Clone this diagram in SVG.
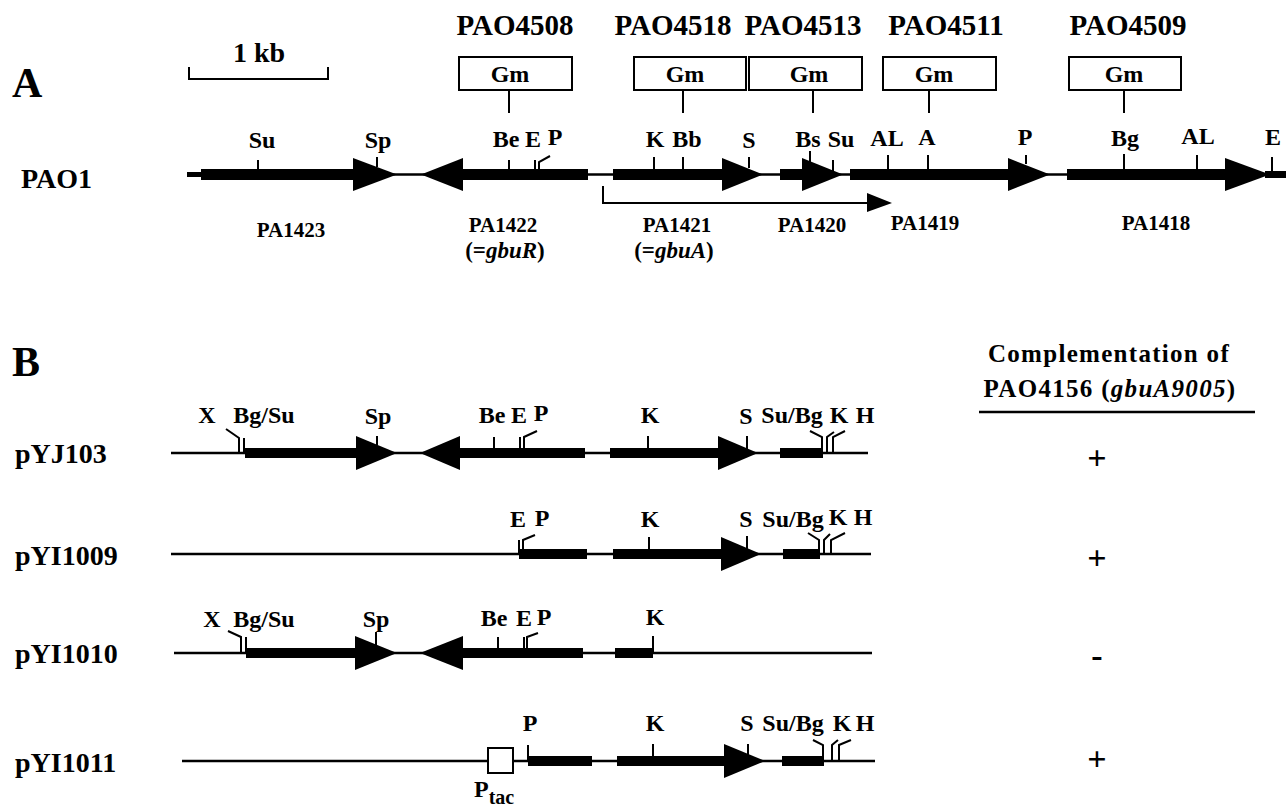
<svg xmlns="http://www.w3.org/2000/svg" width="1286" height="807" viewBox="0 0 1286 807">
<style>
.t{font-family:"Liberation Serif","Times New Roman",serif;font-weight:bold;fill:#000}
.big{font-size:42px}
.name{font-size:28px}
.strain{font-size:29px;text-anchor:middle}
.site{font-size:24px;text-anchor:middle}
.gene{font-size:21px;text-anchor:middle}
.paren{font-size:23px;text-anchor:middle}
.gm{font-size:24px;text-anchor:middle}
.hdr{font-size:25px;text-anchor:middle;letter-spacing:1.3px}
.pm{font-size:34px;text-anchor:middle}
.ln{stroke:#000;fill:none;stroke-width:2}
.dna{stroke:#000;fill:none;stroke-width:2.5}
.box{stroke:#000;fill:#fff;stroke-width:2}
.bar{fill:#000}
</style>
<rect width="1286" height="807" fill="#fff"/>

<g id="panelA-labels">
<text class="t big" x="12" y="97">A</text>
<text class="t name" x="21" y="188">PAO1</text>
<text class="t" x="259" y="62" font-size="28" text-anchor="middle">1 kb</text>
<polyline class="ln" points="189,67 189,79 328,79 328,67"/>
</g>

<g id="insertions">
<g id="PAO4508"><text class="t strain" x="515" y="35">PAO4508</text><rect class="box" x="459" y="57" width="113" height="33"/><text class="t gm" x="510" y="82">Gm</text><line class="ln" x1="509" y1="90" x2="509" y2="113"/></g>
<g id="PAO4518"><text class="t strain" x="673" y="35">PAO4518</text><rect class="box" x="634" y="57" width="112" height="33"/><text class="t gm" x="685" y="82">Gm</text><line class="ln" x1="683" y1="90" x2="683" y2="113"/></g>
<g id="PAO4513"><text class="t strain" x="803" y="35">PAO4513</text><rect class="box" x="749" y="57" width="113" height="33"/><text class="t gm" x="809" y="82">Gm</text><line class="ln" x1="813" y1="90" x2="813" y2="113"/></g>
<g id="PAO4511"><text class="t strain" x="946" y="35">PAO4511</text><rect class="box" x="883" y="57" width="113" height="33"/><text class="t gm" x="934" y="82">Gm</text><line class="ln" x1="929" y1="90" x2="929" y2="113"/></g>
<g id="PAO4509"><text class="t strain" x="1128" y="35">PAO4509</text><rect class="box" x="1069" y="57" width="112" height="33"/><text class="t gm" x="1124" y="82">Gm</text><line class="ln" x1="1124" y1="90" x2="1124" y2="113"/></g>
</g>

<g id="PAO1-map">
<line class="dna" x1="187" y1="174.5" x2="1286" y2="174.5"/>
<rect class="bar" x="187" y="172" width="14" height="5"/>
<rect class="bar" x="201" y="169" width="153" height="11"/>
<polygon class="bar" points="353,158 397,174.5 353,191"/>
<polygon class="bar" points="421,174.5 463,158 463,191"/>
<rect class="bar" x="462" y="169" width="126" height="11"/>
<rect class="bar" x="613" y="169" width="110" height="11"/>
<polygon class="bar" points="722,158 763,174.5 722,191"/>
<rect class="bar" x="780" y="169" width="23" height="11"/>
<polygon class="bar" points="802,158 843,174.5 802,191"/>
<rect class="bar" x="850" y="169" width="159" height="11"/>
<polygon class="bar" points="1008,158 1050,174.5 1008,191"/>
<rect class="bar" x="1067" y="169" width="159" height="11"/>
<polygon class="bar" points="1225,158 1270,174.5 1225,191"/>
<rect class="bar" x="1265" y="171" width="21" height="7"/>
<g id="A-ticks">
<line class="ln" x1="258" y1="160" x2="258" y2="174"/>
<line class="ln" x1="377" y1="157" x2="377" y2="167"/>
<line class="ln" x1="509" y1="160" x2="509" y2="174"/>
<line class="ln" x1="535" y1="160" x2="535" y2="174"/>
<polyline class="ln" points="539,174 539,162 550,156"/>
<line class="ln" x1="654" y1="157" x2="654" y2="174"/>
<line class="ln" x1="683" y1="157" x2="683" y2="174"/>
<line class="ln" x1="749" y1="157" x2="749" y2="168"/>
<line class="ln" x1="810" y1="151" x2="810" y2="163"/>
<line class="ln" x1="833" y1="160" x2="833" y2="172"/>
<line class="ln" x1="888" y1="155" x2="888" y2="174"/>
<line class="ln" x1="928" y1="155" x2="928" y2="174"/>
<line class="ln" x1="1026" y1="155" x2="1026" y2="164"/>
<line class="ln" x1="1124" y1="154" x2="1124" y2="174"/>
<line class="ln" x1="1197" y1="155" x2="1197" y2="174"/>
<line class="ln" x1="1272" y1="157" x2="1272" y2="174"/>
</g>
<g id="A-sites">
<text class="t site" x="262" y="148">Su</text>
<text class="t site" x="378" y="148">Sp</text>
<text class="t site" x="506" y="147">Be</text>
<text class="t site" x="533" y="147">E</text>
<text class="t site" x="555" y="145">P</text>
<text class="t site" x="655" y="147">K</text>
<text class="t site" x="687" y="147">Bb</text>
<text class="t site" x="749" y="148">S</text>
<text class="t site" x="808" y="147">Bs</text>
<text class="t site" x="841" y="147">Su</text>
<text class="t site" x="887" y="146">AL</text>
<text class="t site" x="927" y="145">A</text>
<text class="t site" x="1025" y="145">P</text>
<text class="t site" x="1125" y="146">Bg</text>
<text class="t site" x="1198" y="144">AL</text>
<text class="t site" x="1273" y="145">E</text>
</g>
<g id="A-genes">
<text class="t gene" x="291" y="237">PA1423</text>
<text class="t gene" x="503" y="232">PA1422</text>
<text class="t paren" x="505" y="258">(=<tspan font-style="italic">gbuR</tspan>)</text>
<text class="t gene" x="677" y="232">PA1421</text>
<text class="t paren" x="674" y="258">(=<tspan font-style="italic">gbuA</tspan>)</text>
<text class="t gene" x="812" y="232">PA1420</text>
<text class="t gene" x="925" y="230">PA1419</text>
<text class="t gene" x="1156" y="230">PA1418</text>
</g>
</g>

<g id="connectors">
<polyline class="ln" points="603,186 603,203 870,203"/>
<polygon class="bar" points="867,193 892,203 867,212"/>
</g>

<g id="panelB-labels">
<text class="t big" x="12" y="376">B</text>
<text class="t hdr" x="1109" y="362">Complementation of</text>
<text class="t hdr" x="1110" y="397">PAO4156 (<tspan font-style="italic">gbuA9005</tspan>)</text>
<line x1="979" y1="412" x2="1255" y2="412" stroke="#000" stroke-width="2.5"/>
</g>

<g id="pYJ103">
<text class="t name" x="15" y="463">pYJ103</text>
<line class="dna" x1="171" y1="453" x2="868" y2="453"/>
<rect class="bar" x="245" y="448" width="112" height="10"/>
<polygon class="bar" points="356,436 397,453 356,470"/>
<polygon class="bar" points="420,453 460,436 460,470"/>
<rect class="bar" x="459" y="448" width="126" height="10"/>
<rect class="bar" x="610" y="448" width="109" height="10"/>
<polygon class="bar" points="718,436 758,453 718,470"/>
<rect class="bar" x="780" y="448" width="43" height="10"/>
<polyline class="ln" points="226,429 239,438 239,453"/>
<line class="ln" x1="244" y1="438" x2="244" y2="453"/>
<line class="ln" x1="377" y1="436" x2="377" y2="445"/>
<line class="ln" x1="494" y1="437" x2="494" y2="453"/>
<line class="ln" x1="520" y1="437" x2="520" y2="453"/>
<polyline class="ln" points="524,453 524,437 537,431"/>
<line class="ln" x1="648" y1="436" x2="648" y2="453"/>
<line class="ln" x1="747" y1="436" x2="747" y2="449"/>
<polyline class="ln" points="810,431 822,437 822,453"/>
<polyline class="ln" points="827,453 827,437 834,432"/>
<polyline class="ln" points="833,453 833,437 845,431"/>
<text class="t site" x="207" y="423">X</text>
<text class="t site" x="264" y="423">Bg/Su</text>
<text class="t site" x="378" y="424">Sp</text>
<text class="t site" x="492" y="423">Be</text>
<text class="t site" x="519" y="423">E</text>
<text class="t site" x="541" y="421">P</text>
<text class="t site" x="650" y="423">K</text>
<text class="t site" x="746" y="424">S</text>
<text class="t site" x="792" y="423">Su/Bg</text>
<text class="t site" x="839" y="423">K</text>
<text class="t site" x="865" y="423">H</text>
<text class="t pm" x="1097" y="469">+</text>
</g>

<g id="pYI1009">
<text class="t name" x="15" y="565">pYI1009</text>
<line class="dna" x1="171" y1="554" x2="871" y2="554"/>
<rect class="bar" x="519" y="549" width="68" height="10"/>
<rect class="bar" x="613" y="549" width="109" height="10"/>
<polygon class="bar" points="721,537 761,554 721,571"/>
<rect class="bar" x="783" y="549" width="37" height="10"/>
<line class="ln" x1="519" y1="540" x2="519" y2="554"/>
<polyline class="ln" points="523,554 523,540 535,535"/>
<line class="ln" x1="649" y1="537" x2="649" y2="554"/>
<line class="ln" x1="747" y1="536" x2="747" y2="549"/>
<polyline class="ln" points="808,533 819,540 819,554"/>
<polyline class="ln" points="824,554 824,540 830,534"/>
<polyline class="ln" points="831,554 831,540 845,533"/>
<text class="t site" x="518" y="527">E</text>
<text class="t site" x="542" y="526">P</text>
<text class="t site" x="650" y="527">K</text>
<text class="t site" x="746" y="527">S</text>
<text class="t site" x="793" y="527">Su/Bg</text>
<text class="t site" x="838" y="525">K</text>
<text class="t site" x="863" y="525">H</text>
<text class="t pm" x="1097" y="569">+</text>
</g>

<g id="pYI1010">
<text class="t name" x="15" y="663">pYI1010</text>
<line class="dna" x1="174" y1="653" x2="872" y2="653"/>
<rect class="bar" x="246" y="648" width="110" height="10"/>
<polygon class="bar" points="355,636 397,653 355,670"/>
<polygon class="bar" points="420,653 463,636 463,670"/>
<rect class="bar" x="462" y="648" width="121" height="10"/>
<rect class="bar" x="615" y="648" width="38" height="10"/>
<polyline class="ln" points="228,631 241,637 241,653"/>
<line class="ln" x1="246" y1="637" x2="246" y2="653"/>
<line class="ln" x1="376" y1="632" x2="376" y2="645"/>
<line class="ln" x1="498" y1="637" x2="498" y2="653"/>
<line class="ln" x1="524" y1="637" x2="524" y2="653"/>
<polyline class="ln" points="527,653 527,637 538,633"/>
<line class="ln" x1="653" y1="636" x2="653" y2="653"/>
<text class="t site" x="212" y="627">X</text>
<text class="t site" x="264" y="627">Bg/Su</text>
<text class="t site" x="376" y="627">Sp</text>
<text class="t site" x="494" y="626">Be</text>
<text class="t site" x="524" y="626">E</text>
<text class="t site" x="544" y="625">P</text>
<text class="t site" x="655" y="625">K</text>
<text class="t pm" x="1097" y="667">-</text>
</g>

<g id="pYI1011">
<text class="t name" x="15" y="772">pYI1011</text>
<line class="dna" x1="182" y1="761" x2="875" y2="761"/>
<rect class="box" x="488" y="748" width="25" height="25"/>
<rect class="bar" x="528" y="756" width="64" height="10"/>
<rect class="bar" x="617" y="756" width="108" height="10"/>
<polygon class="bar" points="724,744 765,761 724,778"/>
<rect class="bar" x="782" y="756" width="42" height="10"/>
<line class="ln" x1="528" y1="745" x2="528" y2="761"/>
<line class="ln" x1="653" y1="744" x2="653" y2="761"/>
<line class="ln" x1="748" y1="744" x2="748" y2="757"/>
<polyline class="ln" points="813,740 823,745 823,761"/>
<polyline class="ln" points="832,761 832,745 838,740"/>
<polyline class="ln" points="839,761 839,745 851,740"/>
<text class="t site" x="530" y="731">P</text>
<text class="t site" x="655" y="731">K</text>
<text class="t site" x="747" y="731">S</text>
<text class="t site" x="793" y="731">Su/Bg</text>
<text class="t site" x="842" y="731">K</text>
<text class="t site" x="865" y="731">H</text>
<text class="t" x="474" y="797" font-size="24">P<tspan dy="7" font-size="20">tac</tspan></text>
<text class="t pm" x="1097" y="770">+</text>
</g>
</svg>
